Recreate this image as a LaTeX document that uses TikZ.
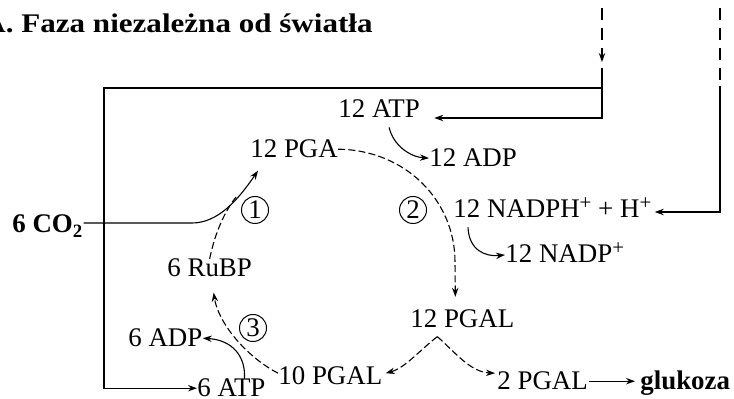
\documentclass[tikz,border=0pt]{standalone}
\usepackage{fontspec}
\usepackage{graphicx}
\setmainfont{Liberation Serif}
\usetikzlibrary{arrows.meta,positioning}

\newcommand{\supplus}{\raisebox{4.2bp}{\fontsize{10.5}{10}\selectfont+}}

\tikzset{
  chem/.style={inner sep=0pt, anchor=base west, font=\fontsize{13.5}{16}\selectfont},
  chemb/.style={chem, font=\fontsize{13.5}{16}\selectfont\bfseries},
  stepno/.style={circle, draw, line width=0.5pt, inner sep=0pt, minimum size=13.5bp, font=\fontsize{13.5}{16}\selectfont},
  flow/.style={line width=0.55pt, -{Stealth[length=4.5bp,width=3.2bp]}},
  cycarr/.style={flow, dash pattern=on 3.5bp off 1.6bp},
  feed/.style={line width=0.65pt},
  feeddash/.style={feed, dash pattern=on 6bp off 4bp}
}

\begin{document}
\begin{tikzpicture}[x=0.5bp,y=-0.5bp]
\useasboundingbox (0,0) rectangle (734,399);

% title
\node[chemb] (title) at (-17,33) {\scalebox{1.155}[1]{A. Faza niezależna od światła}};

% compounds
\node[chemb] (co2) at (12,233) {6 CO\textsubscript{2}};
\node[chem] (atpA) at (338,118) {12 ATP};
\node[chem] (adpA) at (429,167) {12 ADP};
\node[chem] (pga) at (250,158) {12 PGA};
\node[chem] (nadph) at (453,218) {12 NADPH\supplus{} + H\supplus};
\node[chem] (nadp) at (505,263) {12 NADP\supplus};
\node[chem] (pgal) at (410,328) {12 PGAL};
\node[chem] (rubp) at (167,277) {6 RuBP};
\node[chem] (adpB) at (128,347) {6 ADP};
\node[chem] (atpB) at (197,397) {6 ATP};
\node[chem] (pgalX) at (278,385) {10 PGAL};
\node[chem] (pgalII) at (497,390) {2 PGAL};
\node[chemb] (gluc) at (640,390) {glukoza};

% steps
\node[stepno] (s1) at (255,210) {1};
\node[stepno] (s2) at (413,210) {2};
\node[stepno] (s3) at (253,328) {3};

% ATP and NADPH from the light phase
\coordinate (inA) at (602,8);
\coordinate (inB) at (720,8);
\draw[feeddash,-{Stealth[length=4.5bp,width=3.2bp]}] (inA) -- (602,62);
\draw[feed,-{Stealth[length=4.5bp,width=3.2bp]},shorten >=7bp] (602,68) |- (atpA.base east);
\draw[feed,-{Stealth[length=4.5bp,width=3.2bp]}] (602,88) -- (104,88) |- (atpB.west);
\draw[feeddash] (inB) -- (720,86);
\draw[feed,-{Stealth[length=4.5bp,width=3.2bp]},shorten >=1.5bp] (720,86) |- ([yshift=3bp]nadph.base east);

% carboxylation
\coordinate (pgaIn) at ([xshift=4bp,yshift=-6bp]pga.south west);
\draw[flow] ([yshift=5bp]co2.base east) -- (192,223) .. controls (218,223) and (238,200) .. (pgaIn);
\draw[line width=0.55pt,dash pattern=on 3.5bp off 1.6bp] (rubp.north) .. controls (214,238) and (222,215) .. (236,197);

% reduction
\draw[cycarr] (pga.east) .. controls (405,150) and (455,200) .. (455,262) -- ([xshift=-3.5bp,yshift=6.5bp]pgal.north);
\draw[flow] ([xshift=5bp,yshift=-4.5bp]atpA.south) .. controls (393,145) and (410,157) .. (adpA.west);
\draw[flow] ([xshift=7.5bp,yshift=-4.5bp]nadph.south west) .. controls (469,250) and (485,257) .. ([yshift=-1bp]nadp.west);

% split of PGAL
\coordinate (split) at ([xshift=-12.5bp,yshift=-4bp]pgal.south);
\draw[cycarr] (split) .. controls (420,350) and (405,368) .. ([xshift=1.5bp,yshift=1.5bp]pgalX.east);
\draw[cycarr] (split) .. controls (455,352) and (470,372) .. ([xshift=-1bp,yshift=4bp]pgalII.west);
\draw[flow,shorten <=0.5bp,shorten >=2.5bp] (pgalII.east) -- (pgalII.east -| gluc.west);

% regeneration
\draw[cycarr] ([yshift=1.5bp]pgalX.west) .. controls (245,356) and (218,322) .. ([xshift=2bp,yshift=-7.5bp]rubp.south);
\draw[flow] ([xshift=6.5bp]atpB.north) .. controls (246,356) and (232,340) .. (adpB.east);

\end{tikzpicture}
\end{document}
